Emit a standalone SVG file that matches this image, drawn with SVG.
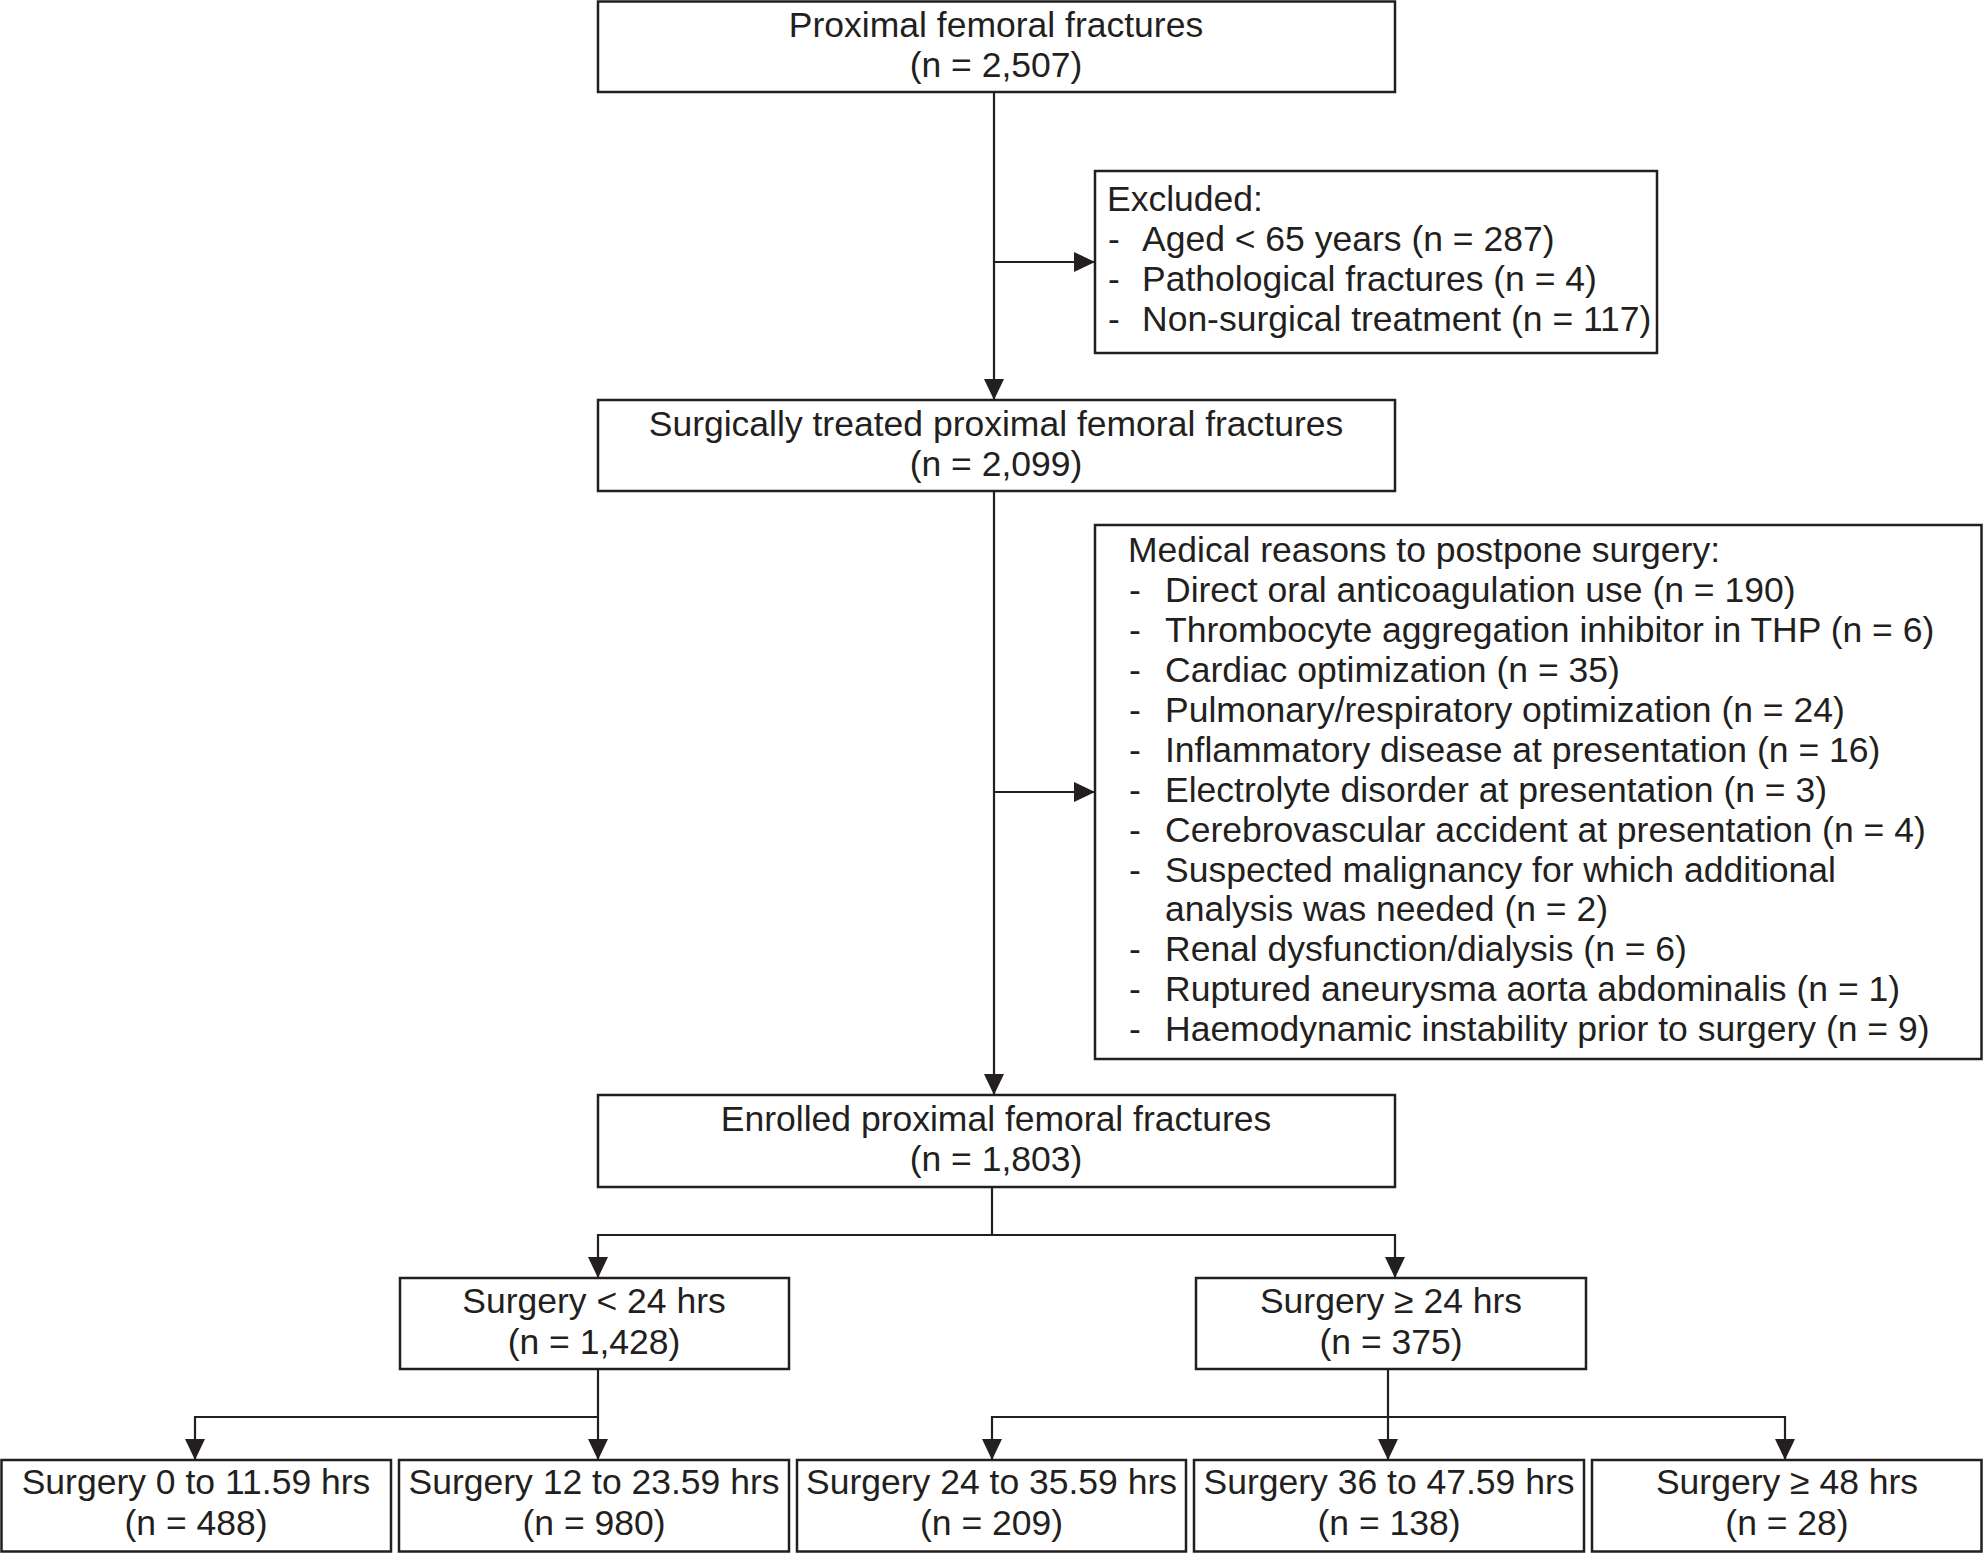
<svg xmlns="http://www.w3.org/2000/svg" width="1983" height="1553" viewBox="0 0 1983 1553">
<style>
  .box { fill: #ffffff; stroke: #231f20; stroke-width: 2.5; }
  .t { font-family: "Liberation Sans", Arial, sans-serif; font-size: 35.5px; fill: #231f20; }
  .c { text-anchor: middle; }
  .ln { fill: none; stroke: #231f20; stroke-width: 2.2; }
</style>
<defs>
  <marker id="arr" viewBox="0 0 21 21" refX="21" refY="10.5" markerWidth="21" markerHeight="21" markerUnits="userSpaceOnUse" orient="auto">
    <path d="M0,0.5 L21,10.5 L0,20.5 z" fill="#231f20"/>
  </marker>
</defs>
<rect width="1983" height="1553" fill="#ffffff"/>

<g id="connectors">
  <line class="ln" x1="994" y1="92" x2="994" y2="400" marker-end="url(#arr)"/>
  <line class="ln" x1="994" y1="262" x2="1095" y2="262" marker-end="url(#arr)"/>
  <line class="ln" x1="994" y1="491" x2="994" y2="1095" marker-end="url(#arr)"/>
  <line class="ln" x1="994" y1="792" x2="1095" y2="792" marker-end="url(#arr)"/>
  <polyline class="ln" points="992,1187 992,1235"/>
  <line class="ln" x1="598" y1="1235" x2="1395" y2="1235"/>
  <line class="ln" x1="598" y1="1234" x2="598" y2="1278" marker-end="url(#arr)"/>
  <line class="ln" x1="1395" y1="1234" x2="1395" y2="1278" marker-end="url(#arr)"/>
  <line class="ln" x1="598" y1="1369" x2="598" y2="1460" marker-end="url(#arr)"/>
  <line class="ln" x1="195" y1="1417" x2="598" y2="1417"/>
  <line class="ln" x1="195" y1="1416" x2="195" y2="1460" marker-end="url(#arr)"/>
  <line class="ln" x1="1388" y1="1369" x2="1388" y2="1460" marker-end="url(#arr)"/>
  <line class="ln" x1="992" y1="1417" x2="1785" y2="1417"/>
  <line class="ln" x1="992" y1="1416" x2="992" y2="1460" marker-end="url(#arr)"/>
  <line class="ln" x1="1785" y1="1416" x2="1785" y2="1460" marker-end="url(#arr)"/>
</g>

<g id="node-proximal">
  <rect class="box" x="598" y="1.5" width="797" height="90.5"/>
  <text class="t c" x="996" y="37">Proximal femoral fractures</text>
  <text class="t c" x="996" y="77">(n = 2,507)</text>
</g>

<g id="node-excluded">
  <rect class="box" x="1095" y="171" width="562" height="182"/>
  <text class="t" x="1107" y="211">Excluded:</text>
  <text class="t" x="1108" y="251">-</text>
  <text class="t" x="1142" y="251">Aged &lt; 65 years (n = 287)</text>
  <text class="t" x="1108" y="291">-</text>
  <text class="t" x="1142" y="291">Pathological fractures (n = 4)</text>
  <text class="t" x="1108" y="331">-</text>
  <text class="t" x="1142" y="331">Non-surgical treatment (n = 117)</text>
</g>

<g id="node-surgical">
  <rect class="box" x="598" y="400" width="797" height="91"/>
  <text class="t c" x="996" y="436">Surgically treated proximal femoral fractures</text>
  <text class="t c" x="996" y="476">(n = 2,099)</text>
</g>

<g id="node-medical">
  <rect class="box" x="1095" y="525" width="886.5" height="534"/>
  <text class="t" x="1128" y="562">Medical reasons to postpone surgery:</text>
  <text class="t" x="1129" y="602">-</text>
  <text class="t" x="1165" y="602">Direct oral anticoagulation use (n = 190)</text>
  <text class="t" x="1129" y="642">-</text>
  <text class="t" x="1165" y="642">Thrombocyte aggregation inhibitor in THP (n = 6)</text>
  <text class="t" x="1129" y="682">-</text>
  <text class="t" x="1165" y="682">Cardiac optimization (n = 35)</text>
  <text class="t" x="1129" y="722">-</text>
  <text class="t" x="1165" y="722">Pulmonary/respiratory optimization (n = 24)</text>
  <text class="t" x="1129" y="762">-</text>
  <text class="t" x="1165" y="762">Inflammatory disease at presentation (n = 16)</text>
  <text class="t" x="1129" y="802">-</text>
  <text class="t" x="1165" y="802">Electrolyte disorder at presentation (n = 3)</text>
  <text class="t" x="1129" y="842">-</text>
  <text class="t" x="1165" y="842">Cerebrovascular accident at presentation (n = 4)</text>
  <text class="t" x="1129" y="882">-</text>
  <text class="t" x="1165" y="882">Suspected malignancy for which additional</text>
  <text class="t" x="1165" y="921">analysis was needed (n = 2)</text>
  <text class="t" x="1129" y="961">-</text>
  <text class="t" x="1165" y="961">Renal dysfunction/dialysis (n = 6)</text>
  <text class="t" x="1129" y="1001">-</text>
  <text class="t" x="1165" y="1001">Ruptured aneurysma aorta abdominalis (n = 1)</text>
  <text class="t" x="1129" y="1041">-</text>
  <text class="t" x="1165" y="1041">Haemodynamic instability prior to surgery (n = 9)</text>
</g>

<g id="node-enrolled">
  <rect class="box" x="598" y="1095" width="797" height="92"/>
  <text class="t c" x="996" y="1131">Enrolled proximal femoral fractures</text>
  <text class="t c" x="996" y="1171">(n = 1,803)</text>
</g>

<g id="node-lt24">
  <rect class="box" x="400" y="1278" width="389" height="91"/>
  <text class="t c" x="594" y="1313">Surgery &lt; 24 hrs</text>
  <text class="t c" x="594" y="1354">(n = 1,428)</text>
</g>

<g id="node-ge24">
  <rect class="box" x="1196" y="1278" width="390" height="91"/>
  <text class="t c" x="1391" y="1313">Surgery ≥ 24 hrs</text>
  <text class="t c" x="1391" y="1354">(n = 375)</text>
</g>

<g id="node-0-11">
  <rect class="box" x="1.5" y="1460" width="389.5" height="91.5"/>
  <text class="t c" x="196" y="1494">Surgery 0 to 11.59 hrs</text>
  <text class="t c" x="196" y="1535">(n = 488)</text>
</g>

<g id="node-12-23">
  <rect class="box" x="399" y="1460" width="390" height="91.5"/>
  <text class="t c" x="594" y="1494">Surgery 12 to 23.59 hrs</text>
  <text class="t c" x="594" y="1535">(n = 980)</text>
</g>

<g id="node-24-35">
  <rect class="box" x="797" y="1460" width="389" height="91.5"/>
  <text class="t c" x="991.5" y="1494">Surgery 24 to 35.59 hrs</text>
  <text class="t c" x="991.5" y="1535">(n = 209)</text>
</g>

<g id="node-36-47">
  <rect class="box" x="1194" y="1460" width="390" height="91.5"/>
  <text class="t c" x="1389" y="1494">Surgery 36 to 47.59 hrs</text>
  <text class="t c" x="1389" y="1535">(n = 138)</text>
</g>

<g id="node-ge48">
  <rect class="box" x="1592" y="1460" width="389.5" height="91.5"/>
  <text class="t c" x="1787" y="1494">Surgery ≥ 48 hrs</text>
  <text class="t c" x="1787" y="1535">(n = 28)</text>
</g>
</svg>
